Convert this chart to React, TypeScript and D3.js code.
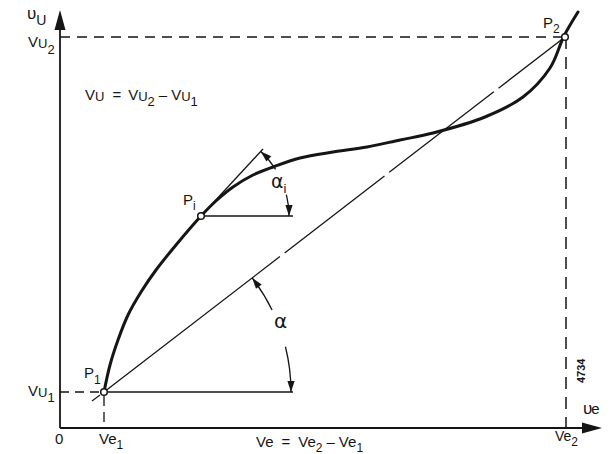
import React from "react";
import * as d3 from "d3";

// curve through the characteristic (ve, vu), units measured from origin
const curveVe = [44, 50, 58, 68, 81, 96, 116, 141, 157, 173, 193, 213, 240, 273, 307, 340, 373, 425, 463, 490, 504, 518];
const curveVu = [36, 63, 88, 113, 136, 158, 183, 212, 228, 241, 253, 261, 270, 276, 281, 288, 295, 311, 331, 360, 392, 416];

const pointNames = ["P1", "Pi", "P2"];
const pointVe = [44, 141, 505];
const pointVu = [36, 212, 391];

// end of the tangent drawn at Pi
const tangentEnd = [203, 279];

const W = 615;
const H = 454;

const x = d3.scaleLinear().domain([0, 542]).range([60, 602]);
const y = d3.scaleLinear().domain([0, 418]).range([428, 10]);

const ink = "#151515";

function arrowHead(tx: number, ty: number, dx: number, dy: number, len = 11, wid = 3.6) {
  const n = Math.hypot(dx, dy);
  const ux = dx / n, uy = dy / n;
  const bx = tx - ux * len, by = ty - uy * len;
  return `M${tx},${ty}L${bx - uy * wid},${by + ux * wid}L${bx + uy * wid},${by - ux * wid}Z`;
}

const rad = (a: number) => (a * Math.PI) / 180;
const onArc = (cx: number, cy: number, r: number, a: number) => [cx + r * Math.cos(rad(a)), cy - r * Math.sin(rad(a))];

function arcPath(cx: number, cy: number, r: number, a0: number, a1: number) {
  const p = d3.path();
  const [x0, y0] = onArc(cx, cy, r, a0);
  p.moveTo(x0, y0);
  p.arc(cx, cy, r, -rad(a0), -rad(a1), false);
  return p.toString();
}

// angle arc with a gap for the label, arrows on both ends
function AngleArc({ cx, cy, r, top, gapHi, gapLo }: { cx: number; cy: number; r: number; top: number; gapHi: number; gapLo: number }) {
  const [tx, ty] = onArc(cx, cy, r, top);
  const [bx, by] = onArc(cx, cy, r, 0);
  const t = rad(top);
  return (
    <g>
      <path d={arcPath(cx, cy, r, top, gapHi)} fill="none" stroke={ink} strokeWidth={1.3} />
      <path d={arcPath(cx, cy, r, gapLo, 0)} fill="none" stroke={ink} strokeWidth={1.3} />
      <path d={arrowHead(tx, ty, -Math.sin(t), -Math.cos(t))} fill={ink} />
      <path d={arrowHead(bx, by, 0, 1)} fill={ink} />
    </g>
  );
}

export default function App() {
  const line = d3
    .line<number>()
    .x((_, i) => x(curveVe[i]))
    .y((d) => y(d))
    .curve(d3.curveCatmullRom.alpha(0.5));

  const P = pointNames.map((n, i) => ({ n, px: x(pointVe[i]), py: y(pointVu[i]) }));
  const [p1, pi, p2] = P;

  const chordAngle = (Math.atan2(p1.py - p2.py, p2.px - p1.px) * 180) / Math.PI;
  const tx = x(tangentEnd[0]), ty = y(tangentEnd[1]);
  const tangentAngle = (Math.atan2(pi.py - ty, tx - pi.px) * 180) / Math.PI;
  const chordLen = Math.hypot(p2.px - p1.px, p2.py - p1.py);

  const font = "'Liberation Sans', Arial, sans-serif";

  return (
    <svg width={W} height={H} style={{ position: "absolute", left: 0, top: 0, background: "#fff" }} fontFamily={font} fill={ink}>
      {/* axes */}
      <line x1={x(0)} y1={y(0)} x2={x(0)} y2={y(410)} stroke={ink} strokeWidth={1.8} />
      <path d={arrowHead(x(0), y(418), 0, -1, 20, 5.5)} fill={ink} />
      <line x1={x(0)} y1={y(0)} x2={x(530)} y2={y(0)} stroke={ink} strokeWidth={1.8} />
      <path d={arrowHead(x(542), y(0), 1, 0, 20, 5.5)} fill={ink} />

      {/* dashed reference lines */}
      <line x1={x(0)} y1={p2.py} x2={p2.px} y2={p2.py} stroke={ink} strokeWidth={1.3} strokeDasharray="10 7" />
      <line x1={p2.px + 1} y1={p2.py} x2={p2.px + 1} y2={y(0)} stroke={ink} strokeWidth={1.5} strokeDasharray="12 8" />
      <line x1={x(0)} y1={p1.py} x2={p1.px - 4} y2={p1.py} stroke={ink} strokeWidth={1.3} strokeDasharray="9 6" />
      <line x1={p1.px} y1={p1.py + 4} x2={p1.px} y2={y(0)} stroke={ink} strokeWidth={1.3} strokeDasharray="10 6" />
      <line x1={p1.px - 4} y1={p1.py + 3} x2={p1.px - 12} y2={p1.py + 9} stroke={ink} strokeWidth={1.2} />

      {/* chord P1-P2 */}
      <line x1={p1.px} y1={p1.py} x2={p2.px} y2={p2.py} stroke={ink} strokeWidth={1.3}
        strokeDasharray={`222 6 126 6 132 6 ${chordLen}`} />
      {/* horizontals at P1 and Pi */}
      <line x1={p1.px + 4} y1={p1.py} x2={p1.px + 189} y2={p1.py} stroke={ink} strokeWidth={1.3} />
      <line x1={pi.px + 4} y1={pi.py} x2={pi.px + 92} y2={pi.py} stroke={ink} strokeWidth={1.3} />
      {/* tangent at Pi */}
      <line x1={pi.px} y1={pi.py} x2={tx} y2={ty} stroke={ink} strokeWidth={1.3} />

      <AngleArc cx={p1.px} cy={p1.py} r={187} top={chordAngle} gapHi={26} gapLo={14} />
      <AngleArc cx={pi.px} cy={pi.py} r={88} top={tangentAngle} gapHi={32} gapLo={14} />

      {/* characteristic */}
      <path d={line(curveVu) ?? ""} fill="none" stroke={ink} strokeWidth={3} strokeLinecap="round" />

      {P.map((p) => (
        <circle key={p.n} cx={p.px} cy={p.py} r={3.3} fill="#fff" stroke={ink} strokeWidth={1.5} />
      ))}

      {/* labels */}
      <text x={27} y={19} fontSize={17}>υ<tspan fontSize={14} dy={6}>U</tspan></text>
      <text x={28} y={47} fontSize={15}>V<tspan fontSize={13} dy={1}>U</tspan><tspan fontSize={13} dy={6}>2</tspan></text>
      <text x={85} y={100} fontSize={15}>
        V<tspan fontSize={13} dy={1}>U</tspan><tspan dy={-1} dx={8}>=</tspan><tspan dx={7}>V</tspan>
        <tspan fontSize={13} dy={1}>U</tspan><tspan fontSize={13} dy={5}>2</tspan>
        <tspan dy={-6} dx={4}>–</tspan><tspan dx={4}>V</tspan>
        <tspan fontSize={13} dy={1}>U</tspan><tspan fontSize={13} dy={5}>1</tspan>
      </text>
      <text x={28} y={396} fontSize={15}>V<tspan fontSize={13} dy={1}>U</tspan><tspan fontSize={13} dy={5}>1</tspan></text>
      <text x={84} y={378} fontSize={15}>P<tspan fontSize={12} dy={6}>1</tspan></text>
      <text x={183} y={205} fontSize={15}>P<tspan fontSize={12} dy={5}>i</tspan></text>
      <text x={543} y={28} fontSize={15}>P<tspan fontSize={12} dy={5}>2</tspan></text>
      <text x={55} y={444} fontSize={15}>0</text>
      <text x={99} y={444} fontSize={15}>Ve<tspan fontSize={12} dy={5}>1</tspan></text>
      <text x={256} y={447} fontSize={15}>
        Ve<tspan dx={8}>=</tspan><tspan dx={8}>Ve</tspan><tspan fontSize={12} dy={5}>2</tspan>
        <tspan dy={-5} dx={4}>–</tspan><tspan dx={4}>Ve</tspan><tspan fontSize={12} dy={5}>1</tspan>
      </text>
      <text x={555} y={441} fontSize={14}>Ve<tspan fontSize={12} dy={5}>2</tspan></text>
      <text x={583} y={414} fontSize={17}>υ<tspan fontSize={15} dx={-1}>e</tspan></text>
      <text x={271} y={188} fontSize={19} fontFamily="'DejaVu Sans', sans-serif">α<tspan fontSize={13} dy={5} fontFamily={font}>i</tspan></text>
      <text x={274} y={328} fontSize={20} fontFamily="'DejaVu Sans', sans-serif">α</text>
      <text transform="translate(585,383) rotate(-90)" fontSize={11} fontWeight="bold">4734</text>
    </svg>
  );
}
